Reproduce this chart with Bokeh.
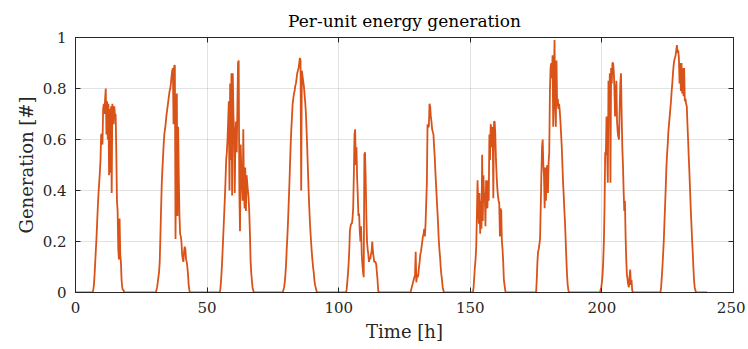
import numpy as np
from bokeh.plotting import figure
from bokeh.models import LinearAxis, FixedTicker, NumeralTickFormatter, Range1d
from bokeh.embed import file_html
from bokeh.resources import INLINE

# Per-unit generation, 15-min samples, each day listed from 06:00 onward
STEP = 0.25
DAY_START_HOUR = 6
HOURS = 240

day0 = [0, 0, 0, 0.01, 0.03, 0.07, 0.12, 0.17, 0.22, 0.28, 0.34, 0.39, 0.43, 0.47, 0.52, 0.62,
        0.62, 0.58, 0.72, 0.74, 0.70, 0.76, 0.80, 0.62, 0.75, 0.60, 0.74, 0.46, 0.72, 0.47, 0.73,
        0.39, 0.74, 0.72, 0.66, 0.73, 0.69, 0.70, 0.55, 0.36, 0.32, 0.17, 0.13, 0.29, 0.15, 0.12,
        0.05, 0.02, 0.01, 0.01, 0]
day1 = [0, 0, 0, 0.01, 0.02, 0.04, 0.06, 0.08, 0.12, 0.22, 0.32, 0.42, 0.48, 0.53, 0.58, 0.62,
        0.64, 0.66, 0.69, 0.71, 0.73, 0.75, 0.77, 0.79, 0.80, 0.82, 0.85, 0.87, 0.88, 0.66, 0.89,
        0.89, 0.21, 0.54, 0.78, 0.30, 0.65, 0.45, 0.30, 0.23, 0.22, 0.20, 0.15, 0.13, 0.12, 0.16,
        0.18, 0.17, 0.13, 0.12, 0.10, 0.07, 0.03, 0.01, 0]
day2 = [0, 0, 0, 0, 0.01, 0.04, 0.08, 0.13, 0.19, 0.25, 0.31, 0.37, 0.44, 0.52, 0.55, 0.60, 0.67,
        0.75, 0.40, 0.82, 0.52, 0.86, 0.38, 0.86, 0.70, 0.63, 0.39, 0.60, 0.67, 0.55, 0.72, 0.90,
        0.91, 0.40, 0.24, 0.58, 0.48, 0.42, 0.36, 0.64, 0.40, 0.33, 0.49, 0.32, 0.46, 0.43, 0.40,
        0.37, 0.32, 0.24, 0.13, 0.08, 0.05, 0.02, 0.01, 0]
day3 = [0, 0, 0, 0, 0.01, 0.02, 0.04, 0.07, 0.11, 0.17, 0.22, 0.28, 0.35, 0.42, 0.50, 0.58, 0.64,
        0.69, 0.74, 0.76, 0.78, 0.79, 0.81, 0.82, 0.84, 0.86, 0.87, 0.88, 0.90, 0.92, 0.91, 0.40,
        0.87, 0.85, 0.83, 0.81, 0.78, 0.75, 0.71, 0.65, 0.58, 0.50, 0.42, 0.35, 0.29, 0.24, 0.20,
        0.16, 0.13, 0.10, 0.08, 0.05, 0.03, 0.02, 0.01, 0]
day4 = [0, 0, 0, 0, 0.01, 0.04, 0.07, 0.11, 0.16, 0.24, 0.26, 0.27, 0.27, 0.29, 0.33, 0.46, 0.62,
        0.64, 0.50, 0.57, 0.45, 0.38, 0.30, 0.31, 0.24, 0.20, 0.26, 0.15, 0.11, 0.08, 0.06, 0.54,
        0.55, 0.45, 0.30, 0.20, 0.17, 0.15, 0.12, 0.14, 0.13, 0.15, 0.16, 0.20, 0.16, 0.14, 0.12,
        0.12, 0.12, 0.11, 0.08, 0.05, 0.01, 0]
day5 = [0, 0, 0, 0, 0, 0, 0.01, 0.02, 0.03, 0.04, 0.05, 0.06, 0.07, 0.16, 0.04, 0.07, 0.06, 0.07,
        0.10, 0.12, 0.15, 0.16, 0.18, 0.20, 0.22, 0.23, 0.25, 0.22, 0.27, 0.35, 0.43, 0.66, 0.65,
        0.65, 0.74, 0.73, 0.69, 0.67, 0.64, 0.63, 0.62, 0.57, 0.53, 0.47, 0.42, 0.37, 0.32, 0.27,
        0.21, 0.17, 0.14, 0.10, 0.07, 0.05, 0.02, 0.01, 0]
day6 = [0, 0, 0, 0, 0, 0.02, 0.06, 0.10, 0.13, 0.18, 0.30, 0.44, 0.35, 0.27, 0.39, 0.23, 0.36,
        0.25, 0.54, 0.28, 0.46, 0.36, 0.39, 0.26, 0.44, 0.41, 0.33, 0.44, 0.36, 0.62, 0.52, 0.66,
        0.63, 0.57, 0.65, 0.37, 0.67, 0.67, 0.62, 0.52, 0.46, 0.41, 0.38, 0.36, 0.35, 0.22, 0.33,
        0.32, 0.20, 0.17, 0.12, 0.05, 0.03, 0.01, 0]
day7 = [0, 0, 0, 0, 0, 0.05, 0.12, 0.16, 0.17, 0.19, 0.21, 0.33, 0.46, 0.57, 0.60, 0.50, 0.46,
        0.33, 0.49, 0.36, 0.48, 0.50, 0.39, 0.51, 0.55, 0.79, 0.88, 0.90, 0.84, 0.93, 0.65, 0.80,
        0.99, 0.74, 0.65, 0.91, 0.73, 0.76, 0.72, 0.74, 0.71, 0.67, 0.62, 0.57, 0.50, 0.43, 0.38,
        0.32, 0.27, 0.20, 0.13, 0.07, 0.03, 0.01, 0]
day8 = [0, 0, 0, 0, 0, 0, 0.01, 0.02, 0.04, 0.07, 0.12, 0.20, 0.33, 0.55, 0.54, 0.69, 0.55, 0.43,
        0.83, 0.69, 0.86, 0.43, 0.88, 0.82, 0.90, 0.90, 0.87, 0.80, 0.69, 0.77, 0.83, 0.67, 0.63,
        0.61, 0.60, 0.72, 0.82, 0.86, 0.70, 0.57, 0.50, 0.40, 0.32, 0.36, 0.22, 0.13, 0.07, 0.05,
        0.03, 0.02, 0.06, 0.09, 0.03, 0.05, 0.01, 0]
day9 = [0, 0, 0.02, 0.06, 0.10, 0.15, 0.20, 0.27, 0.34, 0.41, 0.49, 0.54, 0.58, 0.63, 0.66, 0.69,
        0.72, 0.75, 0.79, 0.82, 0.86, 0.89, 0.91, 0.92, 0.93, 0.95, 0.97, 0.94, 0.95, 0.92, 0.82,
        0.90, 0.79, 0.90, 0.78, 0.88, 0.77, 0.88, 0.75, 0.76, 0.74, 0.73, 0.66, 0.60, 0.53, 0.47,
        0.40, 0.33, 0.27, 0.21, 0.16, 0.10, 0.05, 0.02, 0.01, 0]
days = [day0, day1, day2, day3, day4, day5, day6, day7, day8, day9]

x_ticks = [0, 50, 100, 150, 200, 250]
y_ticks = [0, 0.2, 0.4, 0.6, 0.8, 1]

# assemble the time series (zero at night)
n = int(round(HOURS / STEP)) + 1
time_h = np.arange(n) * STEP
gen = np.zeros(n)
for k, d in enumerate(days):
    i0 = int(round((24 * k + DAY_START_HOUR) / STEP))
    gen[i0:i0 + len(d)] = d

FONT = "DejaVu Serif"
AX = "#262626"

p = figure(width=745, height=347, x_range=Range1d(0, 250), y_range=Range1d(0, 1),
           output_backend="svg", toolbar_location=None,
           min_border_left=75, min_border_right=12, min_border_top=37, min_border_bottom=55)
p.background_fill_color = "white"
p.border_fill_color = "white"
p.outline_line_color = AX
p.outline_line_width = 1

p.line(time_h, gen, line_color="#D95319", line_width=1.8)

p.title.text = "Per-unit energy generation"
p.title.align = "center"
p.title.text_font = FONT
p.title.text_font_size = "17px"
p.title.text_font_style = "normal"
p.title.text_color = "black"
p.title.standoff = 14

for ax in (p.xaxis[0], p.yaxis[0]):
    ax.major_tick_in = 5
    ax.major_tick_out = 0
    ax.minor_tick_line_color = None
    ax.axis_line_color = AX
    ax.major_tick_line_color = AX
    ax.major_label_text_font = FONT
    ax.major_label_text_font_size = "15px"
    ax.major_label_text_color = AX
    ax.axis_label_text_font = FONT
    ax.axis_label_text_font_size = "18px"
    ax.axis_label_text_font_style = "normal"
    ax.axis_label_text_color = AX

p.xaxis.ticker = FixedTicker(ticks=x_ticks)
p.yaxis.ticker = FixedTicker(ticks=y_ticks)
p.yaxis.formatter = NumeralTickFormatter(format="0.[0]")
p.xaxis.axis_label = "Time [h]"
p.yaxis.axis_label = "Generation [#]"
p.xaxis.major_label_standoff = 9
p.yaxis.major_label_standoff = 9
p.xaxis.axis_label_standoff = 5
p.yaxis.axis_label_standoff = 3

p.xgrid.ticker = FixedTicker(ticks=x_ticks)
p.ygrid.ticker = FixedTicker(ticks=y_ticks)
p.grid.grid_line_color = AX
p.grid.grid_line_alpha = 0.13

top = LinearAxis(ticker=FixedTicker(ticks=x_ticks), major_label_text_color=None,
                 major_label_text_font_size="1px",
                 major_tick_in=5, major_tick_out=0, minor_tick_line_color=None,
                 axis_line_color=AX, major_tick_line_color=AX, major_label_standoff=0)
right = LinearAxis(ticker=FixedTicker(ticks=y_ticks), major_label_text_color=None,
                   major_label_text_font_size="1px",
                   major_tick_in=5, major_tick_out=0, minor_tick_line_color=None,
                   axis_line_color=AX, major_tick_line_color=AX, major_label_standoff=0)
p.add_layout(top, "above")
p.add_layout(right, "right")

open("out.html", "w").write(file_html(p, INLINE))
